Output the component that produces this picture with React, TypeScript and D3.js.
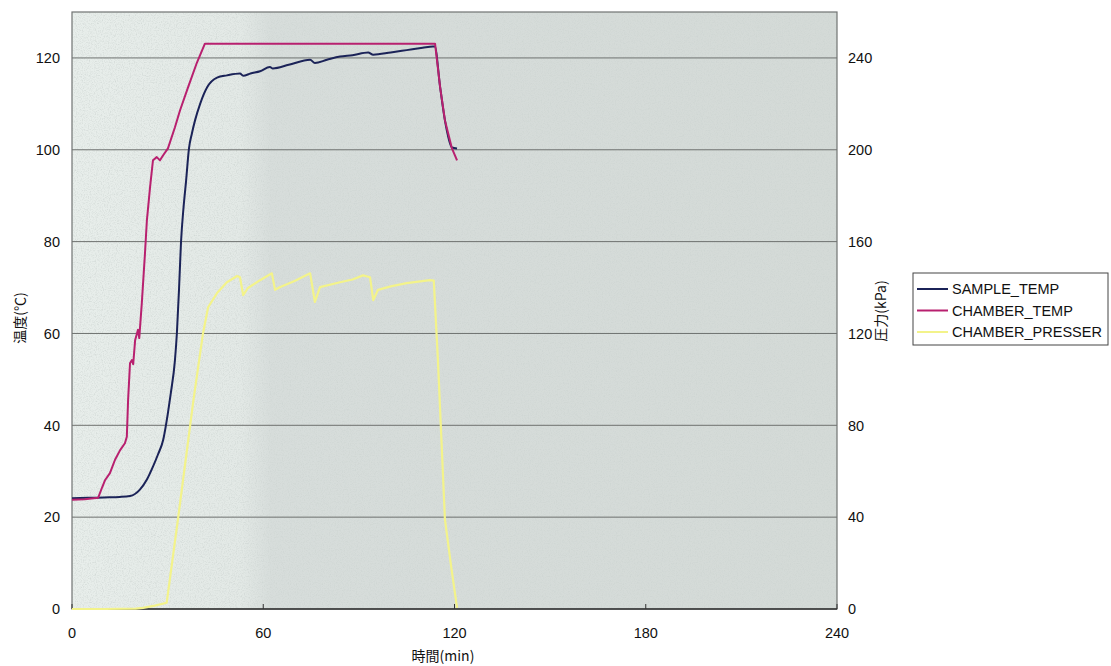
import React from "react";
import * as d3 from "d3";

// ---- data ----
const xTicks = [0, 60, 120, 180, 240];
const leftTicks = [0, 20, 40, 60, 80, 100, 120];
const rightTicks = [0, 40, 80, 120, 160, 200, 240];
const seriesNames = ["SAMPLE_TEMP", "CHAMBER_TEMP", "CHAMBER_PRESSER"];

const sampleTime = [0, 5, 10, 15, 18.2, 21.3, 23.5, 25.4, 27, 28.6, 30.1, 31, 32.3, 32.9, 33.6, 34.2, 35, 35.8, 36.7, 37.6, 38.6, 40.2, 42.4, 45.5, 48.6, 52.7, 53.7, 56, 59, 62.1, 63, 68, 74.7, 76.2, 80, 84.1, 88, 92.9, 94.5, 100, 105, 110, 113.2, 113.8, 115.5, 117, 119.2, 120.8];
const sampleTemp = [24.1, 24.2, 24.3, 24.4, 24.6, 26, 28.2, 31, 33.7, 36.8, 42.7, 47, 54.2, 60, 70, 79.9, 87.5, 93.3, 100.3, 103.5, 106.4, 110, 113.6, 115.7, 116.2, 116.6, 116.1, 116.6, 117.1, 118, 117.7, 118.5, 119.6, 118.9, 119.6, 120.3, 120.6, 121.2, 120.7, 121.2, 121.7, 122.2, 122.5, 122.5, 113.6, 106.4, 100.5, 100.3];

const chamberTime = [0, 4, 8.2, 9.4, 10.4, 11.9, 13.5, 15.1, 16.6, 17.2, 17.6, 18.2, 18.8, 19.2, 19.8, 20.7, 21.1, 21.9, 22.9, 23.5, 24.5, 25.4, 26.6, 27.6, 28.6, 30.1, 32.3, 33.9, 36.4, 39.2, 41.7, 113.9, 115.5, 117, 119.2, 120.8];
const chamberTemp = [23.8, 23.9, 24.2, 26.4, 28.1, 29.6, 32.5, 34.6, 36.1, 37.5, 45.5, 53.5, 54.2, 53.3, 58.5, 60.8, 59, 66.6, 77.5, 84.7, 91.9, 97.7, 98.4, 97.7, 98.8, 100.3, 104.9, 108.6, 113.6, 119, 123.1, 123.1, 113.6, 106.4, 100.3, 97.7];

const pressTime = [0, 10, 20, 22.3, 26, 29.7, 33.3, 38.1, 41.1, 42.7, 45.5, 48.6, 51.8, 52.7, 53.7, 55.2, 59, 62.7, 63.7, 65, 70, 74.7, 76.2, 77.8, 84.1, 88, 91.3, 93.5, 94.5, 96, 100, 105, 112.3, 113.5, 114.8, 117, 119, 120.8];
const pressVal = [0, 0, 0.2, 0.5, 1.5, 2.7, 39.7, 91, 120, 131.4, 137.6, 142.3, 145, 144.5, 136.7, 139.8, 143.2, 146.2, 139, 140, 143, 146.2, 133.7, 140.2, 142.3, 143.5, 145.3, 144.5, 134.5, 139, 140.5, 141.9, 143.2, 143, 108.4, 39, 18, 0.5];

const colors = ["#1b2358", "#b8206f", "#f3f38a"];

export default function App() {
  const L = 72, R = 837, T = 12, B = 609;
  const x = d3.scaleLinear().domain([0, 240]).range([L, R]);
  const yL = d3.scaleLinear().domain([0, 130]).range([B, T]);
  const yR = d3.scaleLinear().domain([0, 260]).range([B, T]);

  const lineSmooth = d3.line<[number, number]>().x(d => x(d[0])).y(d => yL(d[1])).curve(d3.curveMonotoneX);
  const lineL = d3.line<[number, number]>().x(d => x(d[0])).y(d => yL(d[1]));
  const lineR = d3.line<[number, number]>().x(d => x(d[0])).y(d => yR(d[1]));

  const sample = sampleTime.map((t, i) => [t, sampleTemp[i]] as [number, number]);
  const chamber = chamberTime.map((t, i) => [t, chamberTemp[i]] as [number, number]);
  const press = pressTime.map((t, i) => [t, pressVal[i]] as [number, number]);

  const font = "'Liberation Sans', Arial, sans-serif";
  const cjk = "'Noto Sans CJK JP', sans-serif";

  return (
    <svg width={1111} height={666} style={{ position: "absolute", left: 0, top: 0, background: "#fff" }}>
      <defs>
        <linearGradient id="bg" x1="0" x2="1" y1="0" y2="0">
          <stop offset="0" stopColor="#e8eeeb" />
          <stop offset="0.22" stopColor="#e3e9e6" />
          <stop offset="0.26" stopColor="#d7dddb" />
          <stop offset="1" stopColor="#d4dad7" />
        </linearGradient>
        <filter id="noise" x="0" y="0" width="1" height="1">
          <feTurbulence type="fractalNoise" baseFrequency="0.85" numOctaves="2" seed="4" result="n" />
          <feColorMatrix in="n" type="matrix"
            values="0 0 0 0 0.6  0 0 0 0 0.65  0 0 0 0 0.63  1.6 0 0 0 -0.7" result="c" />
          <feComposite in="c" in2="SourceGraphic" operator="in" />
        </filter>
      </defs>

      <rect x={L} y={T} width={R - L} height={B - T} fill="url(#bg)" />
      <rect x={L} y={T} width={R - L} height={B - T} fill="#000" filter="url(#noise)" />

      {leftTicks.filter(v => v > 0).map(v => (
        <line key={v} x1={L} x2={R} y1={yL(v)} y2={yL(v)} stroke="#6e716f" strokeWidth={1} />
      ))}
      <rect x={L} y={T} width={R - L} height={B - T} fill="none" stroke="#707372" strokeWidth={1.2} />
      <line x1={L} x2={R} y1={B} y2={B} stroke="#333" strokeWidth={1.5} />
      {xTicks.map(v => (
        <line key={v} x1={x(v)} x2={x(v)} y1={B} y2={B - 5} stroke="#333" strokeWidth={1} />
      ))}

      <path d={lineR(press) || ""} fill="none" stroke={colors[2]} strokeWidth={2.2} strokeLinejoin="round" />
      <path d={lineSmooth(sample) || ""} fill="none" stroke={colors[0]} strokeWidth={2} strokeLinejoin="round" />
      <path d={lineL(chamber) || ""} fill="none" stroke={colors[1]} strokeWidth={2} strokeLinejoin="round" />

      {leftTicks.map(v => (
        <text key={v} x={60} y={yL(v)} dy="0.36em" textAnchor="end" fontFamily={font} fontSize={14.5} fill="#111">{v}</text>
      ))}
      {rightTicks.map(v => (
        <text key={v} x={848} y={yR(v)} dy="0.36em" textAnchor="start" fontFamily={font} fontSize={14.5} fill="#111">{v}</text>
      ))}
      {xTicks.map(v => (
        <text key={v} x={x(v)} y={638} textAnchor="middle" fontFamily={font} fontSize={14.5} fill="#111">{v}</text>
      ))}

      <text transform="translate(25,318) rotate(-90)" textAnchor="middle" fontFamily={cjk} fontSize={14} fill="#111">温度(℃)</text>
      <text transform="translate(886,311) rotate(-90)" textAnchor="middle" fontFamily={cjk} fontSize={14} fill="#111">圧力(kPa)</text>
      <text x={443} y={661} textAnchor="middle" fontFamily={cjk} fontSize={14} fill="#111">時間(min)</text>

      <rect x={913} y={273} width={195} height={72} fill="#fff" stroke="#444" strokeWidth={1} />
      {seriesNames.map((name, i) => {
        const yy = 289 + i * 21.5;
        return (
          <g key={name}>
            <line x1={917} x2={948} y1={yy} y2={yy} stroke={colors[i]} strokeWidth={2} />
            <text x={952} y={yy} dy="0.36em" fontFamily={font} fontSize={14.5} fill="#111">{name}</text>
          </g>
        );
      })}
    </svg>
  );
}
